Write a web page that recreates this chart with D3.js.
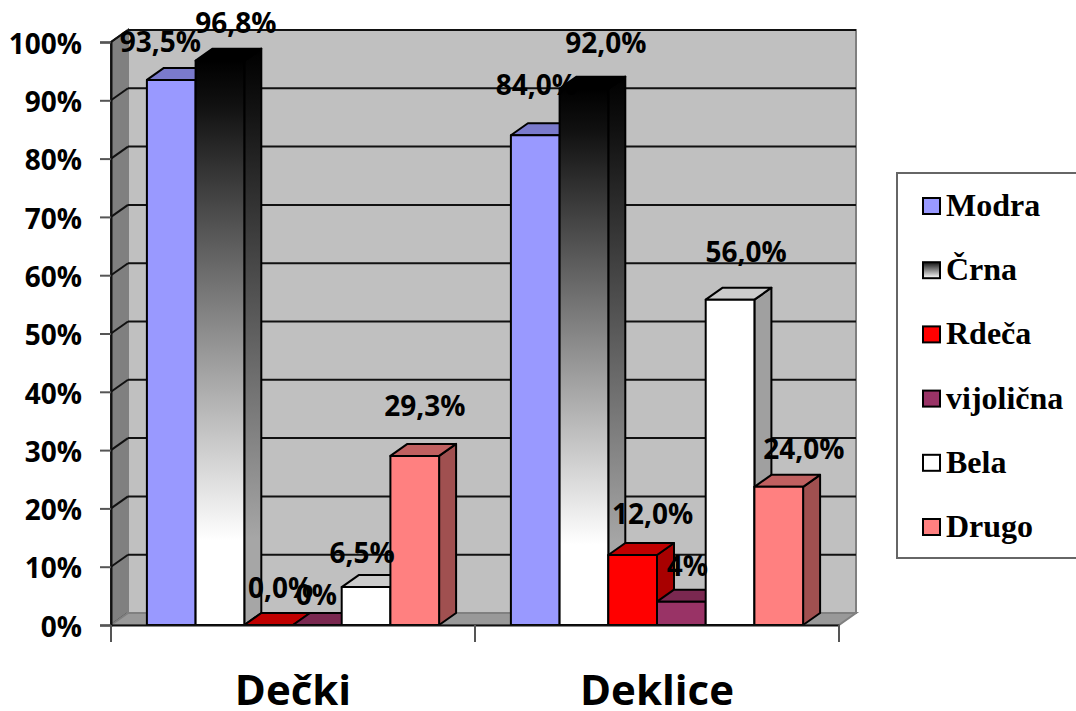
<!DOCTYPE html>
<html>
<head>
<meta charset="utf-8">
<script src="https://cdn.jsdelivr.net/npm/d3@7"></script>
<style>
    html, body { margin: 0; padding: 0; background: #fff; }
    svg { display: block; }
    text { fill: #000; }
</style>
</head>
<body>
<div id="chart"></div>
<script>
const groups = ['Dečki', 'Deklice'];
const seriesNames = ['Modra', 'Črna', 'Rdeča', 'vijolična', 'Bela', 'Drugo'];
const deckiValues = [93.5, 96.8, 0, 0, 6.5, 29];
const deklicValues = [84, 92, 12, 4, 55.8, 23.7];
const deckiLabels = ['93,5%', '96,8%', '0,0%', '0%', '6,5%', '29,3%'];
const deklicLabels = ['84,0%', '92,0%', '12,0%', '4%', '56,0%', '24,0%'];
const yTicks = [0, 10, 20, 30, 40, 50, 60, 70, 80, 90, 100];

const width = 1076;
const height = 711;
const left = 111;
const right = 839;
const base = 625;
const top100 = 42;
const depthX = 17;
const depthY = -12;
const barWidth = 48.7;

// front, top, side colours per series
const frontFill = ['#9999ff', 'url(#blackFront)', '#ff0000', '#993366', '#ffffff', '#ff8080'];
const topFill = ['#7a7acc', '#000000', '#c00000', '#7a2850', '#cccccc', '#c06060'];
const sideFill = ['#7a7acc', 'url(#blackSide)', '#a80000', '#7a2850', '#a0a0a0', '#a05050'];

// label nudges from the top of each bar, the original has them hand placed
const deckiNudge = [[-11, -28], [16, -28], [12, -27], [-1, -20], [-4, -24], [10, -40]];
const deklicNudge = [[1, -40], [22, -36], [20, -31], [6, -26], [16, -38], [25, -28]];

const x = d3.scaleBand().domain(groups).range([left, right]);
const xBar = d3.scaleBand()
    .domain(seriesNames)
    .range([x.bandwidth() / 2 - barWidth * 3, x.bandwidth() / 2 + barWidth * 3]);
const y = d3.scaleLinear().domain([0, 100]).range([base, top100]);

const svg = d3.select('#chart').append('svg')
    .attr('width', width)
    .attr('height', height);

const defs = svg.append('defs');
function addGradient(id, stops) {
    const g = defs.append('linearGradient')
        .attr('id', id)
        .attr('x1', 0).attr('y1', 0)
        .attr('x2', 0).attr('y2', 1);
    stops.forEach(s => g.append('stop').attr('offset', s[0]).attr('stop-color', s[1]));
}
addGradient('blackFront', [[0, '#000000'], [0.08, '#111111'], [0.85, '#ffffff'], [1, '#ffffff']]);
addGradient('blackSide', [[0, '#000000'], [0.1, '#111111'], [0.85, '#a6a6a6'], [1, '#a6a6a6']]);
addGradient('blackSwatch', [[0, '#111111'], [1, '#ffffff']]);

const poly = pts => pts.map(p => p.join(',')).join(' ');

// walls
const wallTop = y(100) + depthY;
const wallBase = base + depthY;
svg.append('polygon')
    .attr('points', poly([[left, y(100)], [left + depthX, wallTop], [left + depthX, wallBase], [left, base]]))
    .attr('fill', '#808080')
    .attr('stroke', '#222')
    .attr('stroke-width', 2);
svg.append('polygon')
    .attr('points', poly([[left, base], [left + depthX, wallBase], [right + depthX, wallBase], [right, base]]))
    .attr('fill', '#999999')
    .attr('stroke', '#808080')
    .attr('stroke-width', 2);
svg.append('rect')
    .attr('x', left + depthX)
    .attr('y', wallTop)
    .attr('width', right - left)
    .attr('height', base - y(100))
    .attr('fill', '#c0c0c0')
    .attr('stroke', '#808080')
    .attr('stroke-width', 2);

// gridlines, back wall plus the diagonal on the left wall
const grid = svg.append('g').selectAll('g').data(yTicks.filter(d => d > 0)).enter().append('g');
grid.append('line')
    .attr('x1', left + depthX)
    .attr('x2', right + depthX)
    .attr('y1', d => y(d) + depthY)
    .attr('y2', d => y(d) + depthY)
    .attr('stroke', '#111')
    .attr('stroke-width', 2);
grid.append('line')
    .attr('x1', left)
    .attr('x2', left + depthX)
    .attr('y1', d => y(d))
    .attr('y2', d => y(d) + depthY)
    .attr('stroke', '#111')
    .attr('stroke-width', 2);

// bars, left to right so each one covers the side of the previous
const rows = [];
groups.forEach((g, gi) => {
    const values = gi === 0 ? deckiValues : deklicValues;
    const labels = gi === 0 ? deckiLabels : deklicLabels;
    const nudge = gi === 0 ? deckiNudge : deklicNudge;
    seriesNames.forEach((s, si) => {
        rows.push({ group: g, series: s, si: si, value: values[si], label: labels[si], nudge: nudge[si] });
    });
});

const bars = svg.append('g').selectAll('g').data(rows).enter().append('g')
    .attr('stroke', '#000')
    .attr('stroke-width', 2)
    .attr('stroke-linejoin', 'round');

const x0 = d => x(d.group) + xBar(d.series);
const x1 = d => x0(d) + xBar.bandwidth();

bars.append('polygon')
    .attr('points', d => poly([[x1(d), y(d.value)], [x1(d) + depthX, y(d.value) + depthY], [x1(d) + depthX, base + depthY], [x1(d), base]]))
    .attr('fill', d => sideFill[d.si]);
bars.append('polygon')
    .attr('points', d => poly([[x0(d), y(d.value)], [x0(d) + depthX, y(d.value) + depthY], [x1(d) + depthX, y(d.value) + depthY], [x1(d), y(d.value)]]))
    .attr('fill', d => topFill[d.si]);
bars.append('rect')
    .attr('x', x0)
    .attr('y', d => y(d.value))
    .attr('width', xBar.bandwidth())
    .attr('height', d => base - y(d.value))
    .attr('fill', d => frontFill[d.si]);

// axes
const yAxis = svg.append('g')
    .attr('transform', `translate(${left},0)`)
    .call(d3.axisLeft(y).tickValues(yTicks).tickFormat(d => d + '%').tickSize(11).tickPadding(18));
yAxis.select('.domain').attr('stroke', '#111').attr('stroke-width', 2);
yAxis.selectAll('line').attr('stroke', '#555').attr('stroke-width', 2);
yAxis.selectAll('text')
    .attr('dy', '0.4em')
    .attr('font-family', '"Open Sans"')
    .attr('font-weight', 700)
    .attr('font-size', 28)
    .attr('fill', '#000');

const xAxis = svg.append('g')
    .attr('transform', `translate(0,${base})`)
    .call(d3.axisBottom(x).tickSize(0).tickPadding(50));
xAxis.select('.domain').attr('stroke', '#111').attr('stroke-width', 2);
xAxis.selectAll('text')
    .attr('font-family', '"Open Sans"')
    .attr('font-weight', 700)
    .attr('font-size', 42)
    .attr('fill', '#000');

// tick marks sit between the groups
svg.append('g').selectAll('line')
    .data([left, x(groups[1]), right])
    .enter().append('line')
    .attr('x1', d => d).attr('x2', d => d)
    .attr('y1', base).attr('y2', base + 17)
    .attr('stroke', '#555')
    .attr('stroke-width', 2);

// value labels
svg.append('g').selectAll('text').data(rows).enter().append('text')
    .attr('x', d => (x0(d) + x1(d)) / 2 + d.nudge[0])
    .attr('y', d => y(d.value) + d.nudge[1])
    .attr('text-anchor', 'middle')
    .attr('font-family', '"Open Sans"')
    .attr('font-weight', 700)
    .attr('font-size', 28)
    .text(d => d.label);

// legend
const legendY = d3.scalePoint().domain(seriesNames).range([206, 527]);
const swatchFill = ['#9999ff', 'url(#blackSwatch)', '#ff0000', '#993366', '#ffffff', '#ff8080'];
svg.append('rect')
    .attr('x', 897).attr('y', 173)
    .attr('width', 185).attr('height', 385)
    .attr('fill', '#fff')
    .attr('stroke', '#666')
    .attr('stroke-width', 2);
const legend = svg.append('g').selectAll('g').data(seriesNames).enter().append('g')
    .attr('transform', d => `translate(0,${legendY(d)})`);
legend.append('rect')
    .attr('x', 923).attr('y', -8)
    .attr('width', 17).attr('height', 16)
    .attr('fill', (d, i) => swatchFill[i])
    .attr('stroke', '#000')
    .attr('stroke-width', 2);
legend.append('text')
    .attr('x', 946)
    .attr('y', 10)
    .attr('font-family', '"Liberation Serif"')
    .attr('font-weight', 700)
    .attr('font-size', 32)
    .text(d => d);
</script>
</body>
</html>
